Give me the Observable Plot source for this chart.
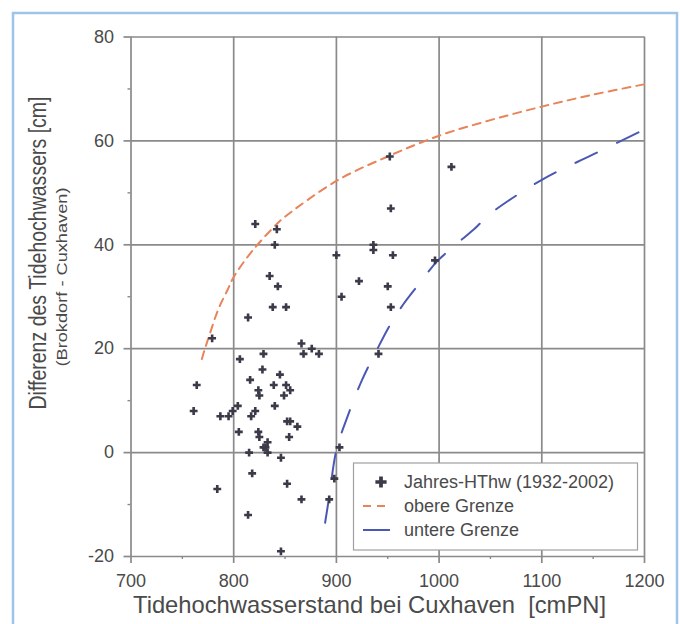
<!DOCTYPE html>
<html>
<head>
<meta charset="utf-8">
<script src="https://cdn.jsdelivr.net/npm/d3@7"></script>
<script src="https://cdn.jsdelivr.net/npm/@observablehq/plot@0.6"></script>
<style>
  html, body { margin: 0; padding: 0; background: #fff; }
  #chart { width: 680px; height: 624px; }
</style>
</head>
<body>
<div id="chart"></div>
<script>
// Jahres-HThw (1932-2002): Tidehochwasserstand Cuxhaven [cmPN] vs. Differenz [cm]
const pointX = [761,764,779,784,787,795,799,804,805,806,814,814,815,816,817,818,821,821,824,825,824,825,828,829,829,831,833,833,835,838,839,840,840,842,843,845,846,846,849,851,851,852,852,854,855,855,862,866,866,868,876,883,893,898,900,903,905,922,936,936,941,950,952,953,953,955,996,1012];
const pointY = [8,13,22,-7,7,7,8,9,4,18,26,-12,0,14,7,-4,44,8,12,11,4,3,16,19,1,1,2,0,34,28,13,9,40,43,32,15,-1,-19,11,13,28,-6,6,3,6,12,5,21,-9,19,20,19,-9,-5,38,1,30,33,40,39,19,32,57,47,28,38,37,55];

// obere Grenze
const upperX = [769,772,777,782,787,794,800,818,842,850,900,950,1000,1050,1100,1150,1200];
const upperY = [18,20,23,26,28.5,31.3,33.8,38.8,44,45.4,52.3,57,61,64,66.6,68.9,70.9];

// untere Grenze
const lowerX = [889,893,900,910,925,940,952,965,981,998,1016,1034,1050,1100,1150,1200];
const lowerY = [-13.5,-8.5,0.5,6.5,14,20,24.5,28.5,32.6,36.8,40,43,46,52.5,57.4,62.2];

const xTicks = [700,800,900,1000,1100,1200];
const xMinor = [750,850,950,1050,1150];
const yTicks = [-20,0,20,40,60,80];
const yMinor = [-10,10,30,50,70];

const legendLabels = ["Jahres-HThw (1932-2002)", "obere Grenze", "untere Grenze"];
const xTitle = "Tidehochwasserstand bei Cuxhaven\u00a0\u00a0[cmPN]";
const yTitle = "Differenz des Tidehochwassers [cm]";
const ySubtitle = "(Brokdorf - Cuxhaven)";

const points = pointX.map((x, i) => ({x, y: pointY[i]}));
const upper = upperX.map((x, i) => ({x, y: upperY[i]}));
const lower = lowerX.map((x, i) => ({x, y: lowerY[i]}));

const gridColor = "#8a8a8a";
const orange = "#e8835a";
const blue = "#4a58b4";
const dotColor = "#3a3a48";
const textColor = "#4a4a4a";
const fmt = d => String(d);

const plot = Plot.plot({
  width: 680,
  height: 624,
  marginLeft: 130.5,
  marginRight: 36,
  marginTop: 36.5,
  marginBottom: 68,
  x: {domain: [700, 1200]},
  y: {domain: [-20, 80]},
  style: {fontFamily: "'Liberation Sans', Arial, sans-serif", fontSize: "18px", color: textColor, background: "#fff"},
  marks: [
    Plot.gridX(xTicks, {stroke: gridColor, strokeOpacity: 1, strokeWidth: 1.7}),
    Plot.gridY(yTicks, {stroke: gridColor, strokeOpacity: 1, strokeWidth: 1.7}),
    Plot.axisX(xTicks, {tickSize: 7, tickPadding: 11, tickFormat: fmt, label: null, stroke: gridColor, strokeWidth: 1.7, fill: textColor, fontSize: 18}),
    Plot.axisX(xMinor, {tickSize: 3, tickFormat: () => "", label: null, stroke: gridColor, strokeWidth: 1.4}),
    Plot.axisY(yTicks, {tickSize: 7, tickPadding: 10, tickFormat: fmt, label: null, stroke: gridColor, strokeWidth: 1.7, fill: textColor, fontSize: 18}),
    Plot.axisY(yMinor, {tickSize: 3, tickFormat: () => "", label: null, stroke: gridColor, strokeWidth: 1.4}),
    Plot.line(upper, {x: "x", y: "y", stroke: orange, strokeWidth: 2, strokeDasharray: "8,6", curve: "catmull-rom"}),
    Plot.line(lower, {x: "x", y: "y", stroke: blue, strokeWidth: 2, strokeDasharray: "24,22", curve: "catmull-rom"}),
    Plot.dot(points, {x: "x", y: "y", symbol: "cross", r: 3.3, fill: dotColor, stroke: "none"})
  ]
});

document.getElementById("chart").appendChild(plot);

const svg = d3.select(plot);
const font = "'Liberation Sans', Arial, sans-serif";

// enforce tick label size
svg.selectAll('g[aria-label$="tick label"]').attr("font-size", 18);

// light blue frame around the figure
svg.append("rect")
  .attr("x", 13).attr("y", 13).attr("width", 664).attr("height", 630)
  .attr("fill", "none").attr("stroke", "#9fc4ea").attr("stroke-width", 2.5);

// axis titles
svg.append("text")
  .attr("x", 133).attr("y", 613)
  .attr("text-anchor", "start")
  .attr("font-family", font).attr("font-size", 24).attr("fill", textColor)
  .attr("textLength", 473).attr("lengthAdjust", "spacingAndGlyphs")
  .text(xTitle);

svg.append("text")
  .attr("transform", "translate(46,253) rotate(-90)")
  .attr("text-anchor", "middle")
  .attr("font-family", font).attr("font-size", 23).attr("fill", textColor)
  .attr("textLength", 313).attr("lengthAdjust", "spacingAndGlyphs")
  .text(yTitle);

svg.append("text")
  .attr("transform", "translate(67,277) rotate(-90)")
  .attr("text-anchor", "middle")
  .attr("font-family", font).attr("font-size", 15).attr("fill", textColor)
  .attr("textLength", 179).attr("lengthAdjust", "spacingAndGlyphs")
  .text(ySubtitle);

// legend box
const lg = svg.append("g");
lg.append("rect")
  .attr("x", 353.5).attr("y", 463).attr("width", 284).attr("height", 87)
  .attr("fill", "#fff").attr("stroke", "#a0a0a0").attr("stroke-width", 1.2);
const rows = [482, 506, 530];
lg.append("path")
  .attr("d", d3.symbol(d3.symbolCross, 70)())
  .attr("transform", `translate(381,${rows[0]})`)
  .attr("fill", dotColor);
lg.append("line")
  .attr("x1", 363).attr("x2", 390).attr("y1", rows[1]).attr("y2", rows[1])
  .attr("stroke", orange).attr("stroke-width", 2).attr("stroke-dasharray", "8,6");
lg.append("line")
  .attr("x1", 363).attr("x2", 390).attr("y1", rows[2]).attr("y2", rows[2])
  .attr("stroke", blue).attr("stroke-width", 2);
legendLabels.forEach((t, i) => {
  lg.append("text")
    .attr("x", 404).attr("y", rows[i]).attr("dy", "0.35em")
    .attr("text-anchor", "start")
    .attr("font-family", font).attr("font-size", 18).attr("fill", textColor)
    .text(t);
});
</script>
</body>
</html>
